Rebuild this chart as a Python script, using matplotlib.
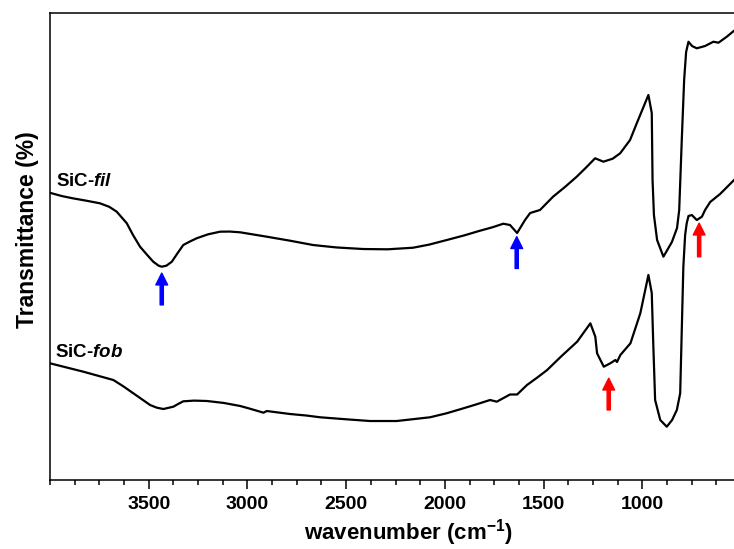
import matplotlib
matplotlib.use('Agg')
import matplotlib.pyplot as plt
import numpy as np
from matplotlib.ticker import MultipleLocator

plt.rcParams['font.family'] = ['Liberation Sans', 'DejaVu Sans']
plt.rcParams['font.weight'] = 'bold'
plt.rcParams['mathtext.fontset'] = 'custom'
plt.rcParams['mathtext.rm'] = 'Liberation Sans:bold'
plt.rcParams['mathtext.bf'] = 'Liberation Sans:bold'
plt.rcParams['mathtext.it'] = 'Liberation Sans:bold:italic'

# FTIR spectra (wavenumber in cm-1, transmittance in arbitrary %)
wn_fil = [4000, 3940, 3882, 3815, 3747, 3700, 3662, 3611, 3580, 3544, 3510, 3477, 3450,
          3434, 3410, 3383, 3355, 3325, 3290, 3257, 3200, 3139, 3090, 3037, 2902,
          2784, 2668, 2550, 2414, 2290, 2161, 2080, 1990, 1900, 1822, 1760, 1704, 1670,
          1634, 1594, 1568, 1518, 1452, 1390, 1332, 1285, 1239, 1197, 1150, 1112, 1062,
          1028, 969, 952, 948, 941, 925, 893, 850, 824, 813, 800, 788, 778, 766,
          748, 724, 682, 640, 614, 572, 535, 500]
t_fil = [61.5, 60.8, 60.3, 59.8, 59.25, 58.5, 57.45, 54.97, 52.5, 49.96, 48.3, 46.74, 45.9,
         45.67, 45.9, 46.74, 48.5, 50.32, 51.1, 51.76, 52.6, 53.17, 53.2, 53.04, 52.10,
         51.24, 50.32, 49.8, 49.46, 49.4, 49.74, 50.4, 51.39, 52.4, 53.38, 54.1, 54.88, 54.60,
         52.89, 55.67, 57.17, 57.82, 60.66, 62.8, 64.95, 66.9, 68.89, 68.16, 68.8, 69.96, 72.8,
         76.38, 82.44, 78.59, 64.24, 56.74, 51.39, 47.82, 50.96, 53.96, 57.82, 72.80, 85.65, 91.65, 93.85,
         92.93, 92.44, 92.93, 93.85, 93.64, 94.92, 96.21, 97.0]

wn_fob = [4000, 3831, 3679, 3630, 3578, 3535, 3493, 3460, 3426, 3375, 3350, 3325, 3270,
          3206, 3120, 3037, 2990, 2936, 2919, 2902, 2784, 2700, 2632, 2500, 2379, 2244,
          2075, 1990, 1906, 1840, 1771, 1737, 1670, 1634, 1584, 1530, 1482, 1410, 1330,
          1263, 1238, 1229, 1195, 1162, 1136, 1128, 1111, 1060, 1010, 969, 952, 945,
          935, 909, 876, 849, 825, 808, 792, 783, 775, 766, 749, 724, 698, 682, 656,
          606, 535, 500]
t_fob = [24.99, 23.19, 21.41, 20.1, 18.57, 17.3, 16.06, 15.5, 15.20, 15.70, 16.3, 16.85, 17.0,
         16.92, 16.5, 15.85, 15.3, 14.63, 14.41, 14.77, 14.13, 13.8, 13.43, 13.0, 12.63, 12.63,
         13.43, 14.3, 15.35, 16.2, 17.13, 16.77, 18.31, 18.31, 20.34, 22.0, 23.55, 26.5, 29.61,
         33.55, 30.69, 27.13, 24.26, 24.99, 25.70, 25.27, 26.77, 29.27, 35.70, 43.90, 40.04, 29.98,
         17.13, 12.85, 11.41, 12.85, 14.99, 18.57, 45.67, 52.46, 54.97, 56.53, 56.74, 55.67, 56.38,
         57.82, 59.53, 61.24, 64.24, 65.74]

# band markers: (wavenumber, tail, tip, colour)
arrows = [(3434, 37.5, 44.3, 'blue'),
          (1636, 45.3, 52.1, 'blue'),
          (712, 47.8, 55.0, 'red'),
          (1170, 15.0, 21.8, 'red')]

fig = plt.figure(figsize=(7.34, 5.49), dpi=100)
ax = fig.add_axes([50/734, 69/549, 691/734, 467/549])

ax.plot(wn_fil, t_fil, color='black', lw=1.6)
ax.plot(wn_fob, t_fob, color='black', lw=1.6)

for x, y0, y1, c in arrows:
    ax.annotate('', xy=(x, y1), xytext=(x, y0),
                arrowprops=dict(facecolor=c, edgecolor=c, width=2.3,
                                headwidth=8.5, headlength=8.5, shrink=0))

ax.text(0.0087, 0.630, r'SiC-$\mathit{fil}$', transform=ax.transAxes,
        fontsize=13.5, fontweight='bold', va='baseline', ha='left')
ax.text(0.0072, 0.264, r'SiC-$\mathit{fob}$', transform=ax.transAxes,
        fontsize=13.5, fontweight='bold', va='baseline', ha='left')

ax.set_xlim(4000, 500)
ax.set_ylim(0, 100)
ax.set_xticks([3500, 3000, 2500, 2000, 1500, 1000])
ax.xaxis.set_minor_locator(MultipleLocator(125))
ax.set_yticks([])
ax.tick_params(axis='x', which='major', direction='out', length=6.5, width=1.1,
               labelsize=14, pad=5)
ax.tick_params(axis='x', which='minor', direction='out', length=3.6, width=1.1)
for sp in ax.spines.values():
    sp.set_linewidth(1.1)

ax.set_xlabel(r'wavenumber (cm$^{-1}$)', fontsize=16, fontweight='bold')
ax.xaxis.label.set_va('center')
ax.xaxis.set_label_coords(0.518, -0.113)
ax.set_ylabel('Transmittance (%)', fontsize=16.5, fontweight='bold')
ax.yaxis.label.set_va('center')
ax.yaxis.set_label_coords(-0.032, 0.537)

fig.savefig('out.png', dpi=100)
